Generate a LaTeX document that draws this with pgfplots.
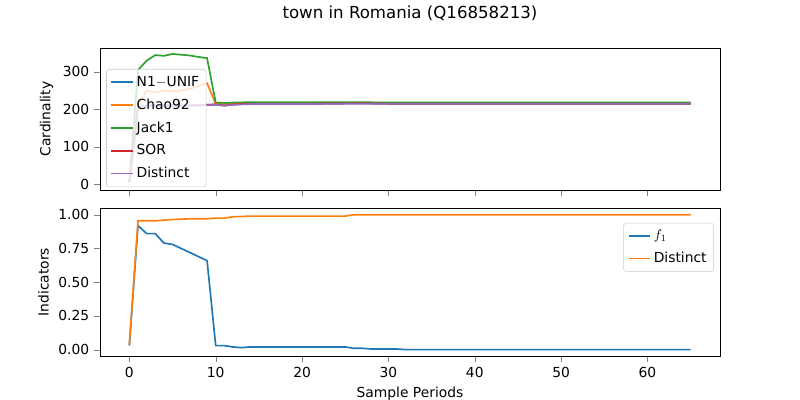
\documentclass[border=0pt]{standalone}
\usepackage{pgfplots}
\pgfplotsset{compat=1.18}
\usepackage{fontspec}
\setmainfont{DejaVu Sans}
\definecolor{c0}{HTML}{1F77B4}\definecolor{c1}{HTML}{FF7F0E}\definecolor{c2}{HTML}{2CA02C}\definecolor{c3}{HTML}{D62728}\definecolor{c4}{HTML}{9467BD}
\begin{document}
\begin{tikzpicture}
\useasboundingbox (0,0) rectangle (8in,4in);
\pgfplotsset{every axis/.style={scale only axis,width=6.2in,anchor=south west,xmin=-3.4,xmax=68.4,
 tick label style={font=\fontsize{10}{12}\selectfont},label style={font=\fontsize{10}{12}\selectfont},
 /pgf/number format/assume math mode=true,tick align=outside,tick pos=left,
 legend style={font=\fontsize{10}{12}\selectfont,draw=black!20,rounded corners=2pt,cells={anchor=west},
  fill=white,fill opacity=0.8,text opacity=1,row sep=3.5pt,inner sep=3pt},
 legend image code/.code={\draw[##1,line width=1.2pt] (0cm,0cm) -- (0.55cm,0cm);},
 every axis plot/.append style={line width=1.2pt,no marks}}}
\begin{axis}[at={(1in,2.10in)},height=1.42in,ymin=-16,ymax=364,ytick={0,100,200,300},xtick={0,10,20,30,40,50,60},xticklabels={},
 ylabel={Cardinality},legend style={at={(0.01,0.02)},anchor=south west}]
\addplot[c0] coordinates {(0,5)(1,205)(2,210)(3,210)(4,210)(5,210)(6,210)(7,210)(8,210)(9,212)(10,213)(11,210)(12,213)(14,215)(20,215)(27,216)(30,215)(40,215)(50,215)(65,215)};
\addlegendentry{N1$-$UNIF}
\addplot[c1] coordinates {(0,5)(1,210)(2,250)(3,245)(4,250)(5,248)(6,250)(7,255)(8,262)(9,270)(10,214)(11,214)(12,215)(14,216)(20,216)(27,217)(30,216)(40,216)(50,216)(65,216)};
\addlegendentry{Chao92}
\addplot[c2] coordinates {(0,5)(1,305)(2,330)(3,345)(4,343)(5,348)(6,346)(7,344)(8,340)(9,337)(10,218)(11,217)(12,218)(14,219)(20,219)(27,219)(30,218)(40,218)(50,218)(65,218)};
\addlegendentry{Jack1}
\addplot[c3] coordinates {(0,5)(1,205)(2,210)(3,210)(4,210)(5,210)(6,210)(7,210)(8,211)(9,212)(10,213)(11,210)(12,213)(14,215)(20,215)(27,216)(30,215)(40,215)(50,215)(65,215)};
\addlegendentry{SOR}
\addplot[c4] coordinates {(0,5)(1,205)(2,210)(3,210)(4,210)(5,210)(6,210)(7,210)(8,210)(9,211)(10,212)(11,210)(12,212)(14,214)(20,214)(27,215)(30,215)(40,215)(50,215)(65,215)};
\addlegendentry{Distinct}
\end{axis}
\begin{axis}[at={(1in,0.44in)},height=1.48in,ymin=-0.047,ymax=1.05,ytick={0,0.25,0.5,0.75,1},
 yticklabel style={/pgf/number format/.cd,fixed,fixed zerofill,precision=2},xtick={0,10,20,30,40,50,60},
 ylabel={Indicators},xlabel={Sample Periods},legend style={at={(0.99,0.9)},anchor=north east}]
\addplot[c0] coordinates {(0,0.03)(1,0.92)(2,0.86)(3,0.86)(4,0.79)(5,0.78)(6,0.75)(7,0.72)(8,0.69)(9,0.66)(10,0.03)(11,0.03)(12,0.02)(13,0.015)(14,0.02)(25,0.02)(26,0.01)(27,0.01)(28,0.005)(31,0.005)(32,0)(65,0)};
\addlegendentry{$f_1$}
\addplot[c1] coordinates {(0,0.04)(1,0.955)(2,0.955)(3,0.955)(4,0.96)(5,0.965)(6,0.967)(7,0.97)(8,0.97)(9,0.97)(10,0.975)(11,0.975)(12,0.985)(13,0.987)(14,0.99)(25,0.99)(26,1.0)(65,1.0)};
\addlegendentry{Distinct}
\end{axis}
\node[font=\fontsize{12}{14}\selectfont] at (4.1in,3.87in) {town in Romania (Q16858213)};
\end{tikzpicture}
\end{document}
